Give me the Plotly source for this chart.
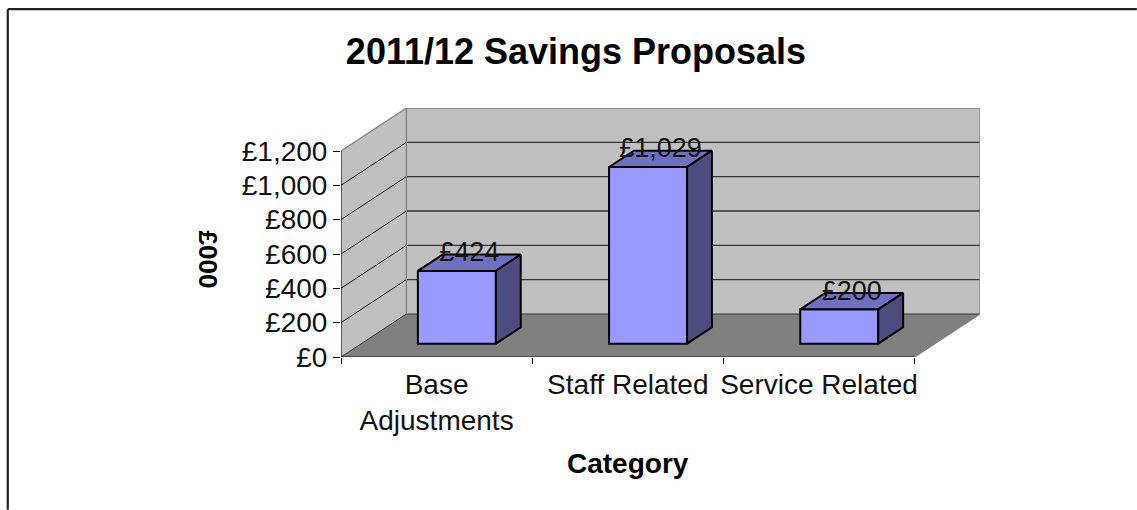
import plotly.graph_objects as go

# Chart content
categories = ["Base<br>Adjustments", "Staff Related", "Service Related"]
savings = [424, 1029, 200]
value_labels = ["£424", "£1,029", "£200"]
value_ticks = [0, 200, 400, 600, 800, 1000, 1200]
value_tick_labels = ["£0", "£200", "£400", "£600", "£800", "£1,000", "£1,200"]

# Oblique projection: a point at depth d (0 front, 1 back) shifts by d * (DEPTH_X, DEPTH_Y)
DEPTH_X = 0.342    # in category widths
DEPTH_Y = 250.5    # in value units
BAR_WIDTH = 0.408
BAR_FRONT = 0.31
BAR_BACK = 0.69
LABEL_LIFT = 48    # value units between a bar's top and its label centre
N = len(categories)
VMAX = value_ticks[-1]

FONT = "Liberation Sans, Arial, sans-serif"
WALL = "#C0C0C0"
FLOOR = "#808080"
EDGE = "#808080"
FACE = "#9999FF"
TOP = "#7070C0"
SIDE = "#4D4D80"

W, H = 1137, 510
L, R, T, B = 340.5, 980.0, 107.5, 357.0


def project(x, y, d):
    return x + d * DEPTH_X, y + d * DEPTH_Y


def polygon(points):
    xs, ys = zip(*[project(*p) for p in points])
    return list(xs) + [xs[0]], list(ys) + [ys[0]]


def path(points):
    xs, ys = polygon(points)
    return "M " + " L ".join(f"{a},{b}" for a, b in zip(xs[:-1], ys[:-1])) + " Z"


def segment(a, b, color, width):
    x0, y0 = project(*a)
    x1, y1 = project(*b)
    return dict(type="line", x0=x0, y0=y0, x1=x1, y1=y1,
                line=dict(color=color, width=width), layer="below")


shapes = [
    # back wall, side wall and floor
    dict(type="path", path=path([(0, 0, 1), (N, 0, 1), (N, VMAX, 1), (0, VMAX, 1)]),
         fillcolor=WALL, line=dict(width=0), layer="below"),
    dict(type="path", path=path([(0, 0, 0), (0, 0, 1), (0, VMAX, 1), (0, VMAX, 0)]),
         fillcolor=WALL, line=dict(width=0), layer="below"),
    dict(type="path", path=path([(0, 0, 0), (N, 0, 0), (N, 0, 1), (0, 0, 1)]),
         fillcolor=FLOOR, line=dict(width=0), layer="below"),
    # floor edges stay behind the bars
    segment((0, 0, 0), (0, 0, 1), "#333333", 1),
    segment((0, 0, 1), (N, 0, 1), "#333333", 1),
]
# gridlines run along the side wall and across the back wall
for v in value_ticks[1:-1]:
    shapes.append(segment((0, v, 0), (0, v, 1), "#111111", 1))
    shapes.append(segment((0, v, 1), (N, v, 1), "#333333", 1.3))

# outer chart frame, open on the right and at the bottom
px = lambda v: (v - L) / (R - L)
py = lambda v: (B - v) / (B - T)
shapes += [
    dict(type="line", xref="paper", yref="paper", x0=px(7), x1=px(W), y0=py(8.5), y1=py(8.5),
         line=dict(color="#222222", width=2.2)),
    dict(type="line", xref="paper", yref="paper", x0=px(7), x1=px(7), y0=py(8.5), y1=py(H),
         line=dict(color="#222222", width=2.2)),
]

fig = go.Figure()


def outline(points, color, width):
    xs, ys = zip(*[project(*p) for p in points])
    fig.add_trace(go.Scatter(x=xs, y=ys, mode="lines", line=dict(color=color, width=width),
                             cliponaxis=False, hoverinfo="skip", showlegend=False))


# wall edges and the two axis lines
outline([(0, VMAX, 0), (0, VMAX, 1), (N, VMAX, 1), (N, 0, 1), (N, 0, 0)], EDGE, 1.3)
outline([(0, 0, 1), (0, VMAX, 1)], EDGE, 1.3)
outline([(0, VMAX, 0), (0, 0, 0), (N, 0, 0)], "#111111", 1.2)

centers = [i + 0.5 for i in range(N)]

# front faces
fx, fy = zip(*[project(c, 0, BAR_FRONT) for c in centers])
fig.add_trace(go.Bar(x=list(fx), y=savings, base=list(fy), width=BAR_WIDTH,
                     marker=dict(color=FACE, line=dict(color="black", width=2)),
                     hoverinfo="skip", showlegend=False))

# top and side faces
for c, v in zip(centers, savings):
    xl, xr = c - BAR_WIDTH / 2, c + BAR_WIDTH / 2
    tx, ty = polygon([(xl, v, BAR_FRONT), (xr, v, BAR_FRONT), (xr, v, BAR_BACK), (xl, v, BAR_BACK)])
    fig.add_trace(go.Scatter(x=tx, y=ty, mode="lines", fill="toself", fillcolor=TOP,
                             line=dict(color="black", width=2), hoverinfo="skip", showlegend=False))
    sx, sy = polygon([(xr, 0, BAR_FRONT), (xr, 0, BAR_BACK), (xr, v, BAR_BACK), (xr, v, BAR_FRONT)])
    fig.add_trace(go.Scatter(x=sx, y=sy, mode="lines", fill="toself", fillcolor=SIDE,
                             line=dict(color="black", width=2), hoverinfo="skip", showlegend=False))

# value labels sit above the middle of each bar's top
lx, ly = zip(*[project(c, v + LABEL_LIFT, 0.5) for c, v in zip(centers, savings)])
fig.add_trace(go.Scatter(x=lx, y=ly, mode="text", text=value_labels, textposition="middle center",
                         textfont=dict(family=FONT, size=27, color="#111111"),
                         cliponaxis=False, hoverinfo="skip", showlegend=False))

fig.update_layout(
    width=W, height=H, autosize=False,
    margin=dict(l=L, r=W - R, t=T, b=H - B, pad=0),
    paper_bgcolor="white", plot_bgcolor="rgba(0,0,0,0)",
    shapes=shapes,
    title=dict(text="<b>2011/12 Savings Proposals</b>", x=576 / W, y=1 - 51 / H,
               xanchor="center", yanchor="middle", xref="container", yref="container",
               font=dict(family=FONT, size=36, color="black")),
    annotations=[
        dict(text="<b>Category</b>", xref="paper", yref="paper", x=px(628), y=py(464),
             xanchor="center", yanchor="middle",
             showarrow=False, font=dict(family=FONT, size=28, color="black")),
        dict(text="<b>£000</b>", xref="paper", yref="paper", x=px(207), y=py(259), textangle=90,
             xanchor="center", yanchor="middle",
             showarrow=False, font=dict(family=FONT, size=26, color="black")),
    ],
    xaxis=dict(range=[0, N + DEPTH_X], tickvals=centers, ticktext=categories, ticks="", showgrid=False,
               zeroline=False, showline=False, tickangle=0, ticklabelstandoff=8,
               tickfont=dict(family=FONT, size=28, color="#111111"),
               minor=dict(tickmode="array", tickvals=list(range(N + 1)), ticks="outside", ticklen=6,
                          tickcolor="#111111", tickwidth=1, showgrid=False)),
    yaxis=dict(range=[0, VMAX + DEPTH_Y], tickvals=value_ticks, ticktext=value_tick_labels, ticks="outside",
               ticklen=7, tickcolor="#111111", tickwidth=1, showgrid=False, zeroline=False, showline=False,
               tickfont=dict(family=FONT, size=28, color="#111111")),
)

fig.write_html("out.html")
